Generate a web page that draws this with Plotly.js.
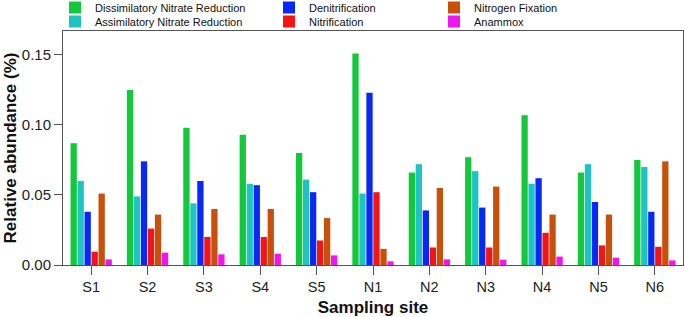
<!DOCTYPE html>
<html>
<head>
<meta charset="utf-8">
<script src="https://cdn.plot.ly/plotly-3.0.1.min.js"></script>
<style>html,body{margin:0;padding:0;background:#fff;}#chart{width:685px;height:317px;}</style>
</head>
<body>
<div id="chart"></div>
<script>
var sites = ["S1","S2","S3","S4","S5","N1","N2","N3","N4","N5","N6"];
var dissimilatoryNitrateReduction = [0.087,0.125,0.098,0.093,0.080,0.151,0.066,0.077,0.107,0.066,0.075];
var assimilatoryNitrateReduction  = [0.060,0.049,0.044,0.058,0.061,0.051,0.072,0.067,0.058,0.072,0.070];
var denitrification               = [0.038,0.074,0.060,0.057,0.052,0.123,0.039,0.041,0.062,0.045,0.038];
var nitrification                 = [0.0095,0.026,0.020,0.020,0.0175,0.052,0.0125,0.0125,0.023,0.014,0.013];
var nitrogenFixation              = [0.051,0.036,0.040,0.040,0.0335,0.0115,0.055,0.056,0.036,0.036,0.074];
var anammox                       = [0.004,0.0088,0.0076,0.008,0.0069,0.0026,0.004,0.0038,0.006,0.0052,0.0033];
var yTickVals = [0, 0.05, 0.10, 0.15];
var yTickText = ["0.00","0.05","0.10","0.15"];

var series = [
  {name:"Dissimilatory Nitrate Reduction", y:dissimilatoryNitrateReduction, color:"#14c83c", legend:"legend"},
  {name:"Assimilatory Nitrate Reduction",  y:assimilatoryNitrateReduction,  color:"#1ec3c3", legend:"legend2"},
  {name:"Denitrification",                 y:denitrification,               color:"#0a28f5", legend:"legend3"},
  {name:"Nitrification",                   y:nitrification,                 color:"#f51414", legend:"legend4"},
  {name:"Nitrogen Fixation",               y:nitrogenFixation,              color:"#c8500a", legend:"legend5"},
  {name:"Anammox",                         y:anammox,                       color:"#f014f0", legend:"legend6"}
];

var traces = series.map(function(s){
  return {type:"bar", x:sites, y:s.y, name:s.name, legend:s.legend,
    marker:{color:s.color, line:{width:0}}};
});

var ML = 63, MR = 2, MT = 31, MB = 52, W = 685, H = 317;
var PW = W - ML - MR, PH = H - MT - MB;
function leg(px, py){
  return {xref:"paper", yref:"paper", x:(px-ML)/PW, y:(H-MB-py)/PH, xanchor:"left", yanchor:"middle",
    bgcolor:"rgba(0,0,0,0)", borderwidth:0, font:{family:"Liberation Sans, Arial, sans-serif", size:11, color:"#111"}};
}

var layout = {
  width:W, height:H,
  margin:{l:ML, r:MR, t:MT, b:MB, pad:0, autoexpand:false},
  paper_bgcolor:"#fff", plot_bgcolor:"#fff",
  barmode:"group", bargap:0.255, bargroupgap:0.1,
  font:{family:"Liberation Sans, Arial, sans-serif", color:"#222"},
  xaxis:{
    showline:true, linecolor:"#555", linewidth:1, mirror:true,
    ticks:"outside", ticklen:9, tickcolor:"#555", tickwidth:1, tickangle:0,
    tickfont:{size:14.5, color:"#222"}, showgrid:false, zeroline:false,
    title:{text:"Sampling site", font:{size:17, color:"#111", weight:"bold"}}
  },
  yaxis:{
    range:[0, 0.1671], tickvals:yTickVals, ticktext:yTickText,
    showline:true, linecolor:"#555", linewidth:1, mirror:true,
    ticks:"outside", ticklen:8, tickcolor:"#555", tickwidth:1,
    tickfont:{size:15, color:"#222"}, showgrid:false, zeroline:false,
    title:{text:"Relative abundance (%)", font:{size:17, color:"#111", weight:"bold"}}
  },
  legend: leg(55, 7.5),
  legend2: leg(55, 21.5),
  legend3: leg(269, 7.5),
  legend4: leg(269, 21.5),
  legend5: leg(434, 7.5),
  legend6: leg(434, 21.5),
  showlegend:true
};

Plotly.newPlot("chart", traces, layout, {displayModeBar:false});
</script>
</body>
</html>
